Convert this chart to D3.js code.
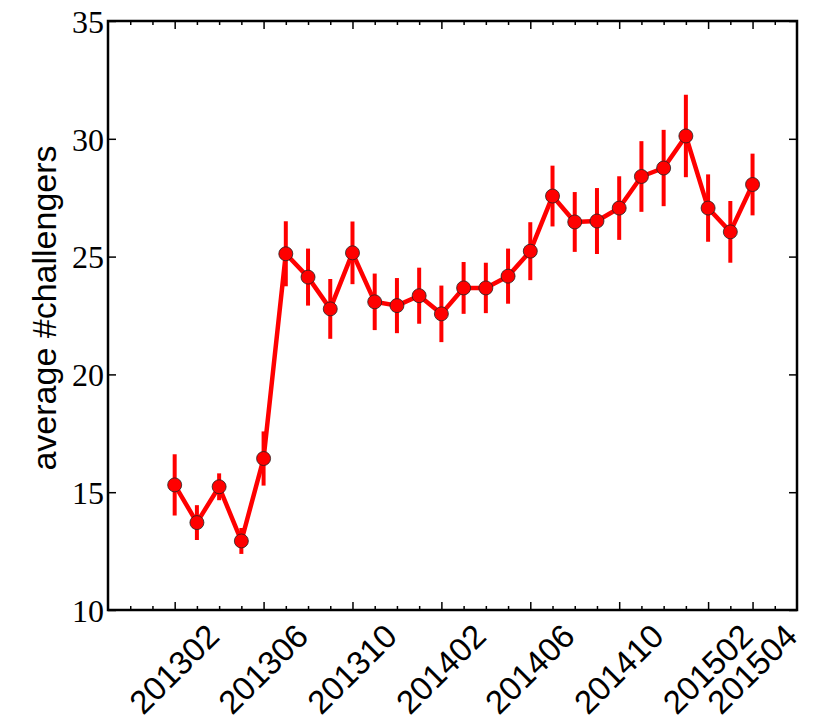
<!DOCTYPE html>
<html>
<head>
<meta charset="utf-8">
<script src="https://cdn.jsdelivr.net/npm/d3@7"></script>
<style>
  body { margin: 0; background: #fff; }
</style>
</head>
<body>
<div id="chart"></div>
<script>
// months, one point per month
var months = ["201302","201303","201304","201305","201306","201307","201308","201309","201310","201311","201312",
  "201401","201402","201403","201404","201405","201406","201407","201408","201409","201410","201411","201412",
  "201501","201502","201503","201504"];
var values = [15.31, 13.71, 15.23, 12.93, 16.43, 25.12, 24.13, 22.78, 25.16, 23.08, 22.92,
  23.34, 22.57, 23.67, 23.67, 24.17, 25.23, 27.57, 26.47, 26.51, 27.06, 28.40, 28.76,
  30.12, 27.06, 26.05, 28.06];
var errors = [1.30, 0.74, 0.57, 0.55, 1.15, 1.38, 1.21, 1.27, 1.33, 1.20, 1.17,
  1.19, 1.20, 1.10, 1.07, 1.17, 1.23, 1.29, 1.27, 1.40, 1.35, 1.50, 1.62,
  1.75, 1.43, 1.31, 1.31];
var xTickLabels = ["201302","201306","201310","201402","201406","201410","201502","201504"];
var yTicks = [10, 15, 20, 25, 30, 35];

var width = 830, height = 727;
var pLeft = 108, pRight = 797, pTop = 21, pBottom = 610;

var svg = d3.select("#chart").append("svg")
  .attr("width", width)
  .attr("height", height);

// x is month index, 0 = 201302
var x = d3.scaleLinear().domain([-3, 28]).range([pLeft, pRight]);
var y = d3.scaleLinear().domain([10, 35]).range([pBottom, pTop]);

var majorIdx = xTickLabels.map(function(m){ return months.indexOf(m); });
var minorIdx = d3.range(-2, 28).filter(function(i){ return majorIdx.indexOf(i) < 0; });

function tickStyle(g) {
  g.select(".domain").remove();
  g.selectAll(".tick line").attr("stroke", "#000").attr("stroke-width", 1.5);
}

// minor ticks bottom/top
svg.append("g").attr("transform", "translate(0," + pBottom + ")")
  .call(d3.axisBottom(x).tickValues(minorIdx).tickSize(-4).tickFormat(""))
  .call(tickStyle);
svg.append("g").attr("transform", "translate(0," + pTop + ")")
  .call(d3.axisTop(x).tickValues(minorIdx).tickSize(-4).tickFormat(""))
  .call(tickStyle);
svg.append("g").attr("transform", "translate(0," + pTop + ")")
  .call(d3.axisTop(x).tickValues(majorIdx).tickSize(-8).tickFormat(""))
  .call(tickStyle);

// major ticks bottom with labels
var xAxis = svg.append("g").attr("transform", "translate(0," + pBottom + ")")
  .call(d3.axisBottom(x).tickValues(majorIdx).tickSize(-8)
    .tickFormat(function(i){ return months[i]; }))
  .call(tickStyle);
xAxis.selectAll(".tick text")
  .attr("y", null).attr("dy", null)
  .attr("transform", "translate(-1,59) rotate(-45)")
  .attr("text-anchor", "middle")
  .attr("dominant-baseline", "central")
  .attr("fill", "#000")
  .style("font-family", "Liberation Sans, Arial, sans-serif")
  .style("font-size", "33px");

// y axis
var yAxis = svg.append("g").attr("transform", "translate(" + pLeft + ",0)")
  .call(d3.axisLeft(y).tickValues(yTicks).tickSize(-8).tickPadding(4).tickFormat(d3.format("d")))
  .call(tickStyle);
yAxis.selectAll(".tick text")
  .attr("dy", "0.35em")
  .attr("fill", "#000")
  .style("font-family", "Liberation Serif, Times New Roman, serif")
  .style("font-size", "32px");
svg.append("g").attr("transform", "translate(" + pRight + ",0)")
  .call(d3.axisRight(y).tickValues(yTicks).tickSize(-8).tickFormat(""))
  .call(tickStyle);

// frame
svg.append("rect")
  .attr("x", pLeft).attr("y", pTop)
  .attr("width", pRight - pLeft).attr("height", pBottom - pTop)
  .attr("fill", "none").attr("stroke", "#000").attr("stroke-width", 2.5);

// y label
svg.append("text")
  .attr("transform", "translate(56,308) rotate(-90)")
  .attr("text-anchor", "middle")
  .style("font-family", "Liberation Sans, Arial, sans-serif")
  .style("font-size", "34px")
  .text("average #challengers");

var pts = months.map(function(m, i){ return {i: i, v: values[i], e: errors[i]}; });

// error bars
svg.selectAll(".err").data(pts).enter().append("line")
  .attr("class", "err")
  .attr("x1", function(d){ return x(d.i); })
  .attr("x2", function(d){ return x(d.i); })
  .attr("y1", function(d){ return y(d.v - d.e); })
  .attr("y2", function(d){ return y(d.v + d.e); })
  .attr("stroke", "#ff0000").attr("stroke-width", 4);

// line
svg.append("path")
  .datum(pts)
  .attr("d", d3.line().x(function(d){ return x(d.i); }).y(function(d){ return y(d.v); }))
  .attr("fill", "none")
  .attr("stroke", "#ff0000")
  .attr("stroke-width", 4.5)
  .attr("stroke-linejoin", "round");

// markers
svg.selectAll(".dot").data(pts).enter().append("circle")
  .attr("class", "dot")
  .attr("cx", function(d){ return x(d.i); })
  .attr("cy", function(d){ return y(d.v); })
  .attr("r", 7)
  .attr("fill", "#ff0000")
  .attr("stroke", "#222")
  .attr("stroke-width", 0.8);
</script>
</body>
</html>
